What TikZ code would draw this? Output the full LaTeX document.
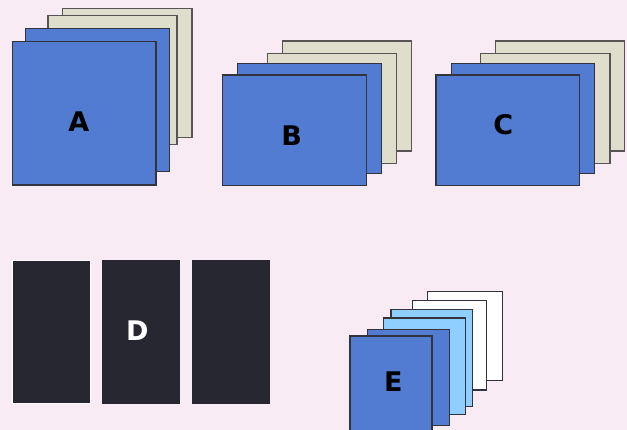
\documentclass[tikz,border=0pt]{standalone}
\usepackage{fontspec}
\setmainfont{DejaVu Sans}
\definecolor{bgpink}{HTML}{F9EBF3}
\definecolor{cardblue}{HTML}{527BD2}
\definecolor{cardbeige}{HTML}{DFDDCC}
\definecolor{cardlight}{HTML}{8FCFFF}
\definecolor{carddark}{HTML}{262730}
\definecolor{edgedark}{HTML}{33333D}
\definecolor{edgegray}{HTML}{585454}
\tikzset{
  bluecard/.style={fill=cardblue,draw=edgedark,line width=1.2pt},
  beigecard/.style={fill=cardbeige,draw=edgegray,line width=1.2pt},
  lightcard/.style={fill=cardlight,draw=edgedark,line width=1.2pt},
  whitecard/.style={fill=white,draw=edgedark,line width=1.2pt},
  darkcard/.style={fill=carddark},
  biglabel/.style={font=\bfseries\fontsize{27}{30}\selectfont,text=black},
}
\begin{document}
\begin{tikzpicture}[x=1pt,y=-1pt]
\fill[bgpink] (0,0) rectangle (627,430);
\useasboundingbox (0,0) rectangle (627,430);
% Group A
\path[beigecard] (62.7,8.3) rectangle (192,137.3);
\path[beigecard] (48,15.3) rectangle (177,144.7);
\path[bluecard] (25.7,28.3) rectangle (169.3,171.3);
\path[bluecard] (12.3,41.3) rectangle (156,185);
\node[biglabel] (labA) at (78.7,121.7) {A};
% Group B
\path[beigecard] (282.3,41) rectangle (411.3,151);
\path[beigecard] (267.3,53.3) rectangle (396.3,163.3);
\path[bluecard] (237.7,63.3) rectangle (381.3,173.7);
\path[bluecard] (222.3,75) rectangle (366.3,185.7);
\node[biglabel] (labB) at (291.7,136) {B};
% Group C
\path[beigecard] (495.3,41) rectangle (624.7,151);
\path[beigecard] (480.7,53.3) rectangle (610,163.3);
\path[bluecard] (451.3,63.3) rectangle (594.7,173.7);
\path[bluecard] (436,75) rectangle (579.3,185.7);
\node[biglabel] (labC) at (503.3,124.3) {C};
% Group D
\path[darkcard,draw=white,line width=0.8pt] (12.7,260.7) rectangle (90,403.3);
\path[darkcard] (102,260) rectangle (180,403.7);
\path[darkcard] (192,260) rectangle (270,403.7);
\node[biglabel,text=white] (labD) at (137.3,330.7) {D};
% Group E
\path[whitecard] (427.7,291.7) rectangle (502.3,380.3);
\path[whitecard] (412.3,300.7) rectangle (486.7,390);
\path[lightcard] (391,309.3) rectangle (472.7,406.3);
\path[lightcard] (383.3,318) rectangle (465.3,414.7);
\path[bluecard] (367.7,329.3) rectangle (449.3,425.7);
\path[bluecard] (350,336) rectangle (432,434);
\node[biglabel] (labE) at (393.3,381.7) {E};
\end{tikzpicture}
\end{document}
